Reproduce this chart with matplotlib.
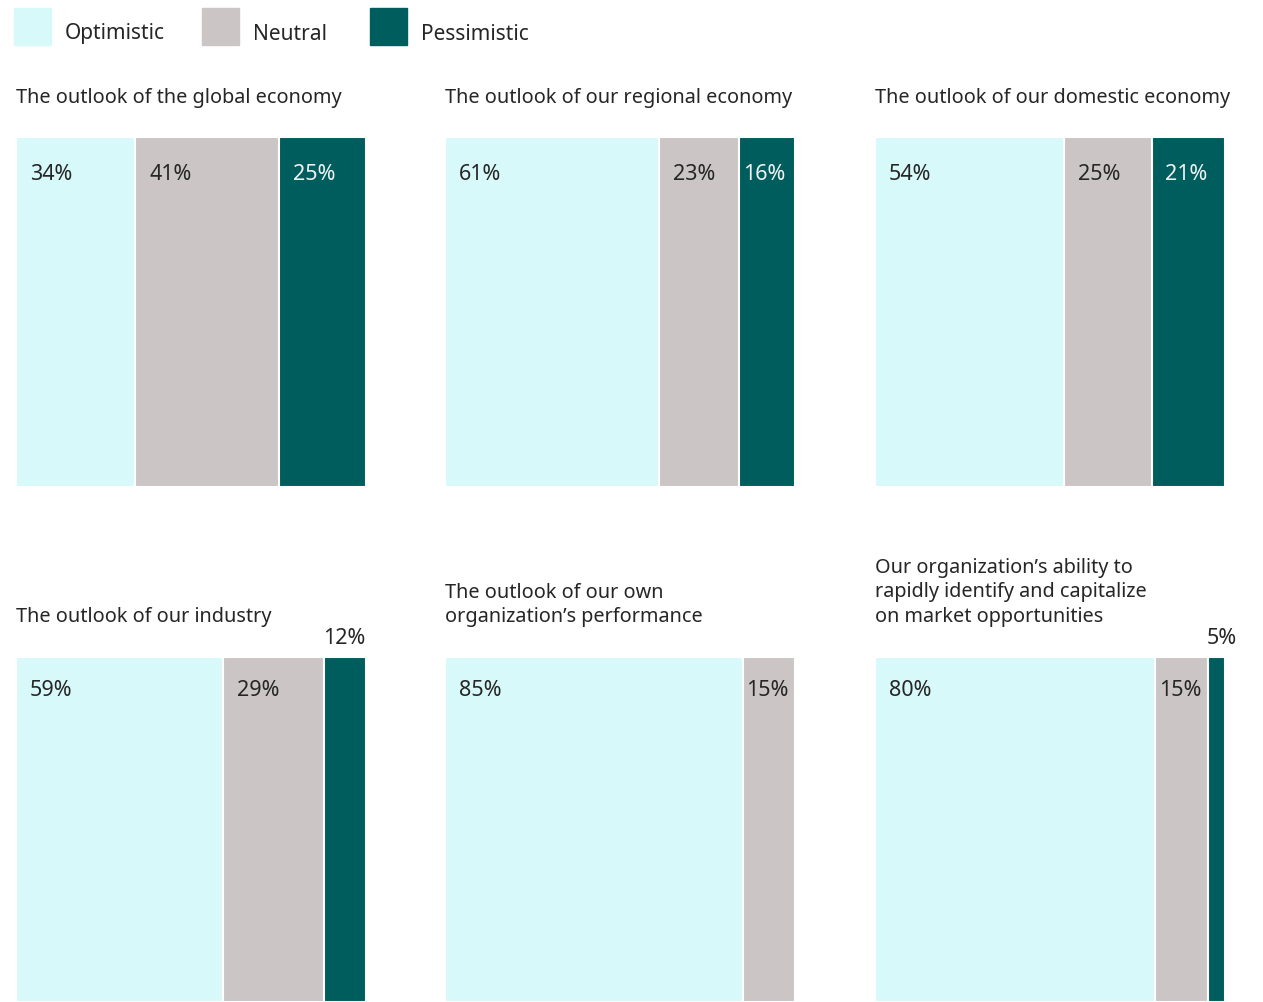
import matplotlib.pyplot as plt
from matplotlib.patches import Rectangle

# data
categories = ["Optimistic", "Neutral", "Pessimistic"]
colors = ["#d8f9fa", "#cbc5c5", "#005d5d"]
text_colors = ["#262626", "#262626", "#f2f2f2"]
titles = [
    "The outlook of the global economy",
    "The outlook of our regional economy",
    "The outlook of our domestic economy",
    "The outlook of our industry",
    "The outlook of our own\norganization\u2019s performance",
    "Our organization\u2019s ability to\nrapidly identify and capitalize\non market opportunities",
]
optimistic = [34, 61, 54, 59, 85, 80]
neutral = [41, 23, 25, 29, 15, 15]
pessimistic = [25, 16, 21, 12, 0, 5]

plt.rcParams['font.family'] = ['Noto Sans', 'DejaVu Sans']
W, H = 1263, 1003
fig = plt.figure(figsize=(W / 100, H / 100), dpi=100)

# legend drawn by hand
leg_x = [14, 202, 370]
for x, c, lab in zip(leg_x, colors, categories):
    fig.patches.append(Rectangle((x / W, 1 - 46 / H), 37 / W, 37 / H,
                                 transform=fig.transFigure, color=c))
    fig.text((x + 51) / W, 1 - 34 / H, lab, fontsize=15, color="#262626",
             va="center", ha="left")

col_x = [16, 445, 875]
row_y = [(138, 488), (658, 1003)]
label_dy = [-37, -32]
pw = 350

for i in range(6):
    r, c = divmod(i, 3)
    x0 = col_x[c]
    top, bot = row_y[r]
    ax = fig.add_axes([x0 / W, 1 - bot / H, pw / W, (bot - top) / H])
    ax.set_xlim(0, 100)
    ax.set_ylim(0, 1)
    ax.axis("off")
    vals = [optimistic[i], neutral[i], pessimistic[i]]
    left = 0
    for v, col, tc in zip(vals, colors, text_colors):
        if v == 0:
            continue
        ax.barh(0.5, v, left=left, height=1, color=col, edgecolor="white",
                linewidth=1.5)
        seg_px = v / 100 * pw
        if seg_px > 45:
            off = 14 if seg_px > 70 else 4
            ax.annotate(f"{v}%", (left, 1), xytext=(off, label_dy[r]),
                        textcoords="offset pixels", fontsize=15.5, color=tc,
                        ha="left", va="center")
        else:
            ax.annotate(f"{v}%", (left, 1), xytext=(-1, 20),
                        textcoords="offset pixels", fontsize=15.5,
                        color="#262626", ha="left", va="center")
        left += v
    # titles
    if r == 0:
        fig.text(x0 / W, 1 - 98 / H, titles[i], fontsize=14.3, color="#262626",
                 ha="left", va="center")
    else:
        fig.text(x0 / W, 1 - 627 / H, titles[i], fontsize=14.3, color="#262626",
                 ha="left", va="bottom", linespacing=1.3)

plt.savefig("out.png", dpi=100)
